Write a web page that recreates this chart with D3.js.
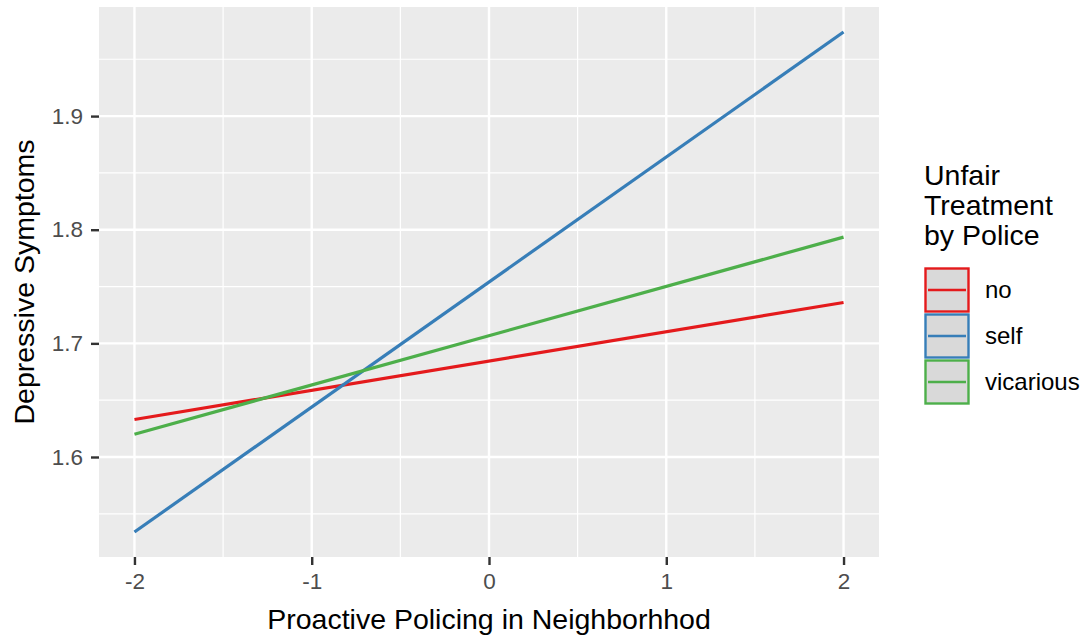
<!DOCTYPE html>
<html>
<head>
<meta charset="utf-8">
<script src="https://cdn.jsdelivr.net/npm/d3@7"></script>
<style>
  body { margin: 0; background: #fff; }
  svg { display: block; font-family: "Liberation Sans", Arial, sans-serif; }
</style>
</head>
<body>
<svg id="chart" width="1085" height="637"></svg>
<script>
// Predicted depressive symptoms by proactive policing, per unfair-treatment group
const groups = ["no", "self", "vicarious"];
const groupColors = ["#E41A1C", "#377EB8", "#4DAF4A"];
const xEnds = [-2, 2];
const noValues = [1.633, 1.736];
const selfValues = [1.534, 1.974];
const vicariousValues = [1.620, 1.7935];
const xTicks = [-2, -1, 0, 1, 2];
const yTicks = [1.6, 1.7, 1.8, 1.9];
const xMinor = [-1.5, -0.5, 0.5, 1.5];
const yMinor = [1.55, 1.65, 1.75, 1.85, 1.95];

const series = [noValues, selfValues, vicariousValues].map((vals, i) => ({
  name: groups[i],
  color: groupColors[i],
  points: xEnds.map((x, j) => ({ x, y: vals[j] }))
}));

const svg = d3.select("#chart");
const panel = { left: 99, top: 7, right: 879, bottom: 557 };

const allY = series.flatMap(s => s.points.map(p => p.y));
const yMin = d3.min(allY), yMax = d3.max(allY);
const yPad = (yMax - yMin) * 0.05;
const xPad = (xEnds[1] - xEnds[0]) * 0.05;

const x = d3.scaleLinear().domain([xEnds[0] - xPad, xEnds[1] + xPad]).range([panel.left, panel.right]);
const y = d3.scaleLinear().domain([yMin - yPad, yMax + yPad]).range([panel.bottom, panel.top]);

// panel background
svg.append("rect")
  .attr("x", panel.left).attr("y", panel.top)
  .attr("width", panel.right - panel.left).attr("height", panel.bottom - panel.top)
  .attr("fill", "#EBEBEB");

const grid = svg.append("g");
// minor grid
grid.selectAll(".xminor").data(xMinor).join("line")
  .attr("x1", d => x(d)).attr("x2", d => x(d))
  .attr("y1", panel.top).attr("y2", panel.bottom)
  .attr("stroke", "#fff").attr("stroke-width", 1.2);
grid.selectAll(".yminor").data(yMinor.filter(v => y(v) > panel.top && y(v) < panel.bottom)).join("line")
  .attr("x1", panel.left).attr("x2", panel.right)
  .attr("y1", d => y(d)).attr("y2", d => y(d))
  .attr("stroke", "#fff").attr("stroke-width", 1.2);
// major grid
grid.selectAll(".xmajor").data(xTicks).join("line")
  .attr("x1", d => x(d)).attr("x2", d => x(d))
  .attr("y1", panel.top).attr("y2", panel.bottom)
  .attr("stroke", "#fff").attr("stroke-width", 2.4);
grid.selectAll(".ymajor").data(yTicks).join("line")
  .attr("x1", panel.left).attr("x2", panel.right)
  .attr("y1", d => y(d)).attr("y2", d => y(d))
  .attr("stroke", "#fff").attr("stroke-width", 2.4);

// fitted lines
const line = d3.line().x(d => x(d.x)).y(d => y(d.y));
svg.append("g").selectAll("path").data(series).join("path")
  .attr("d", d => line(d.points))
  .attr("fill", "none")
  .attr("stroke", d => d.color)
  .attr("stroke-width", 3.2);

// axes
const xAxis = svg.append("g")
  .attr("transform", `translate(0,${panel.bottom})`)
  .call(d3.axisBottom(x).tickValues(xTicks).tickFormat(d => String(d)).tickSize(8).tickPadding(8));
const yAxis = svg.append("g")
  .attr("transform", `translate(${panel.left},0)`)
  .call(d3.axisLeft(y).tickValues(yTicks).tickFormat(d3.format(".1f")).tickSize(8).tickPadding(8));
[xAxis, yAxis].forEach(a => {
  a.select(".domain").remove();
  a.selectAll(".tick line").attr("stroke", "#333").attr("stroke-width", 2.4);
  a.selectAll(".tick text").attr("fill", "#4D4D4D").style("font-size", "22.5px")
    .style("font-family", "Liberation Sans, Arial, sans-serif");
});

// axis titles
svg.append("text")
  .attr("x", (panel.left + panel.right) / 2).attr("y", 629)
  .attr("text-anchor", "middle").attr("fill", "#000")
  .style("font-size", "28.5px")
  .text("Proactive Policing in Neighborhhod");
svg.append("text")
  .attr("transform", `translate(34,${(panel.top + panel.bottom) / 2}) rotate(-90)`)
  .attr("text-anchor", "middle").attr("fill", "#000")
  .style("font-size", "28.5px")
  .text("Depressive Symptoms");

// legend
const legend = svg.append("g").attr("transform", "translate(924,0)");
legend.selectAll("text.title").data(["Unfair", "Treatment", "by Police"]).join("text")
  .attr("x", 0).attr("y", (d, i) => 185 + i * 30)
  .attr("fill", "#000").style("font-size", "28.5px")
  .text(d => d);
const keySize = 46;
const keyTop = 267;
const keys = legend.selectAll("g.key").data(series).join("g")
  .attr("transform", (d, i) => `translate(0,${keyTop + i * keySize})`);
keys.append("rect")
  .attr("x", 1.5).attr("y", 1.5).attr("width", keySize - 3).attr("height", keySize - 3)
  .attr("fill", "#D9D9D9").attr("stroke", d => d.color).attr("stroke-width", 2.4);
keys.append("line")
  .attr("x1", 4).attr("x2", keySize - 4)
  .attr("y1", keySize / 2).attr("y2", keySize / 2)
  .attr("stroke", d => d.color).attr("stroke-width", 2.6);
keys.append("text")
  .attr("x", 61).attr("y", keySize / 2 + 8)
  .attr("fill", "#000").style("font-size", "24px")
  .text(d => d.name);
</script>
</body>
</html>
